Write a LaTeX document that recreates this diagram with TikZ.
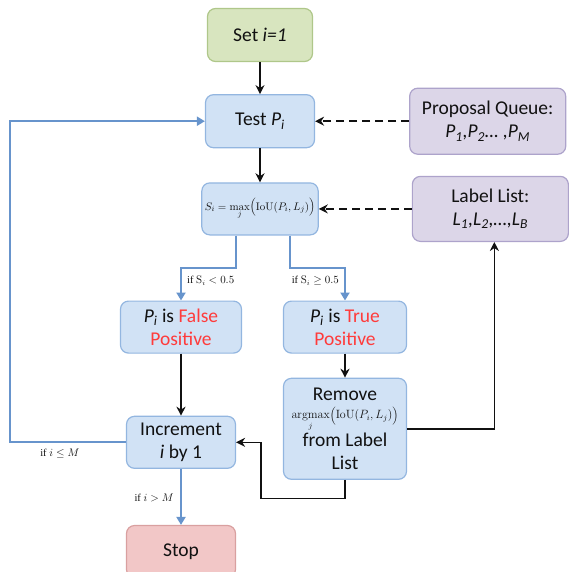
\documentclass[tikz,border=0pt]{standalone}
\usepackage[no-math]{fontspec}
\setmainfont{Carlito}
\newfontfamily\tmsfont{Liberation Serif}
\usepackage{tikz}
\usetikzlibrary{positioning,arrows.meta}
\definecolor{ink}{HTML}{111111}
\definecolor{flow}{HTML}{6794CC}
\definecolor{bluebg}{HTML}{D1E2F5}
\definecolor{blueln}{HTML}{93B6E0}
\definecolor{greenbg}{HTML}{D8E5BF}
\definecolor{greenln}{HTML}{AFC78A}
\definecolor{purplebg}{HTML}{DCD6E8}
\definecolor{purpleln}{HTML}{ADA3CB}
\definecolor{redbg}{HTML}{F2C7C7}
\definecolor{redln}{HTML}{D9A0A0}
\definecolor{alert}{HTML}{FF3B3B}
\newcommand{\sbs}[1]{\textsubscript{#1}}
\tikzset{
  blk/.style={rectangle,rounded corners=8pt,draw=blueln,fill=bluebg,line width=1.2pt,
    align=center,inner sep=3pt,font=\fontsize{19.5}{23}\selectfont,text=ink,
    minimum width=109pt,minimum height=53pt},
  blkg/.style={blk,draw=greenln,fill=greenbg},
  blkp/.style={blk,draw=purpleln,fill=purplebg,minimum width=156pt,minimum height=66pt},
  blkr/.style={blk,draw=redln,fill=redbg},
  ar/.style={-{Stealth[length=9pt,width=9pt]},line width=1.6pt,draw=ink},
  dar/.style={ar,dash pattern=on 8pt off 5pt},
  bar/.style={-{Triangle[length=8pt,width=9pt]},line width=2pt,draw=flow},
  lbl/.style={font=\tmsfont\fontsize{10.5}{12}\selectfont,text=ink,inner sep=1pt},
}
\begin{document}
\begin{tikzpicture}
  \useasboundingbox (0,0) rectangle (573pt,-571pt);
  \node[blkg,minimum width=105pt] (set) at (260pt,-35pt) {Set \textit{i=1}};
  \node[blk,below=32pt of set] (test) {Test \textit{P\sbs{i}}};
  \node[blk,below=34pt of test,minimum width=110pt,minimum height=52pt] (score)
    {\fontsize{11}{13}\selectfont $S_i=\max\limits_j\Bigl(\mathrm{IoU}\bigl(P_i,L_j\bigr)\Bigr)$};
  \node[blk,below=65pt of score,xshift=-79pt,minimum width=121pt,minimum height=52pt] (fp)
    {\textit{P\sbs{i}} is \textcolor{alert}{False}\\\textcolor{alert}{Positive}};
  \node[blk,below=65pt of score,xshift=85pt,minimum width=123pt,minimum height=52pt] (tp)
    {\textit{P\sbs{i}} is \textcolor{alert}{True}\\\textcolor{alert}{Positive}};
  \node[blk,below=24pt of tp,minimum width=123pt,minimum height=101pt,inner sep=1pt] (rm)
    {Remove\\[-5pt]{\fontsize{12}{14}\selectfont$\mathop{\mathrm{argmax}}\limits_j\Bigl(\mathrm{IoU}\bigl(P_i,L_j\bigr)\Bigr)$}\\[1pt]from Label\\List};
  \node[blk,below=62pt of fp,minimum height=52pt] (inc) {Increment\\\textit{i} by 1};
  \node[blkr,below=56pt of inc,minimum height=52pt] (stop) {Stop};
  \node[blkp,right=94pt of test] (pq) {Proposal Queue:\\\textit{P\sbs{1},P\sbs{2}… ,P\sbs{M}}};
  \node[blkp,right=93pt of score,minimum height=65pt] (ll) {Label List:\\\textit{L\sbs{1},L\sbs{2},…,L\sbs{B}}};
  % main flow
  \draw[ar] (set) -- (test);
  \draw[ar] (test) -- (score);
  \draw[dar] (pq.west) -- (pq.west -| test.east);
  \draw[dar] (ll.west) -- (ll.west -| score.east);
  \draw[bar] ([xshift=-24pt]score.south) -- ++(0,-32pt) -| (fp);
  \draw[bar] ([xshift=30pt]score.south) -- ++(0,-32pt) -| (tp);
  \draw[ar] (fp) -- (inc);
  \draw[ar] (tp) -- (rm);
  \draw[ar] (rm.east) -| ([xshift=4pt]ll.south);
  \coordinate (ret) at ([xshift=25pt,yshift=-56pt]inc.east);
  \draw[ar] (rm.south) |- (ret) |- (inc.east);
  \draw[bar] (inc.west) -- ++(-116pt,0) |- (test.west);
  \draw[bar] (inc) -- (stop);
  % conditions
  \node[lbl,anchor=south west] (cfp) at ([xshift=5pt,yshift=14pt]fp.north) {if $\mathrm{S}_i<0.5$};
  \node[lbl,anchor=south east] (ctp) at ([xshift=-5pt,yshift=14pt]tp.north) {if $\mathrm{S}_i\geq0.5$};
  \node[lbl] (cloop) at ([xshift=-66pt,yshift=-11pt]inc.west) {if $i\leq M$};
  \node[lbl,anchor=east] (cstop) at ([xshift=-6pt,yshift=-29pt]inc.south) {if $i>M$};
\end{tikzpicture}
\end{document}
